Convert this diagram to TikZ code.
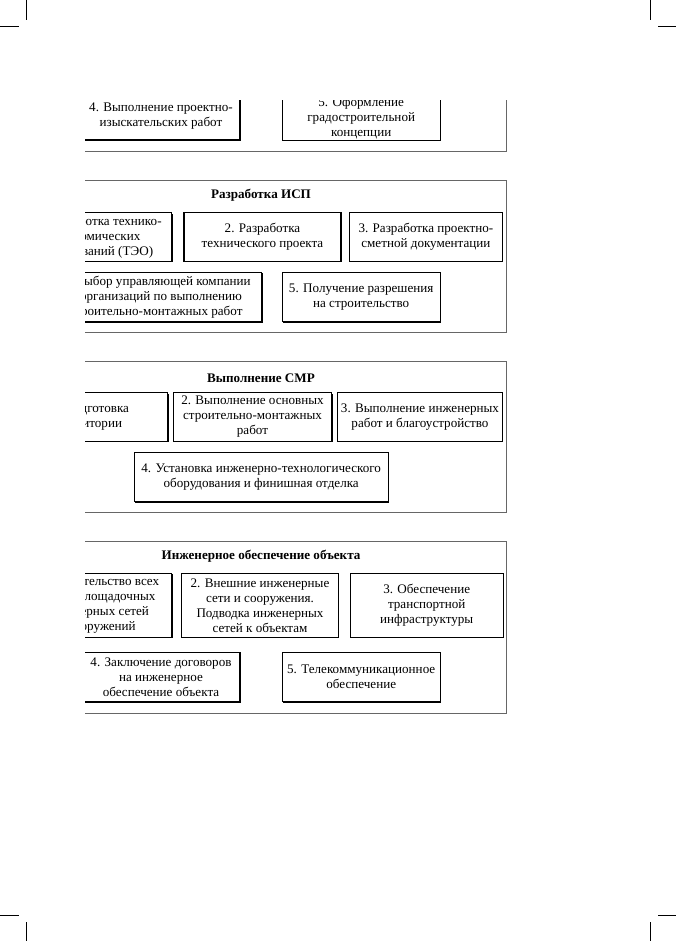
\documentclass[tikz,border=0pt]{standalone}
\usepackage{fontspec}
\setmainfont{Liberation Serif}
\usetikzlibrary{shadows}
\newcommand\mybox[6]{\node[box, minimum width=#4pt, minimum height=#5pt] (#1) at (#2,#3) {#6};}
\begin{document}
\begin{tikzpicture}[x=1pt,y=-1pt,
  box/.style={draw=black, line width=1.1pt, fill=white, align=center, inner sep=0pt,
    font=\fontsize{13.1}{15}\selectfont,
    general shadow={fill=black, shadow xshift=0.9pt, shadow yshift=-0.9pt}},
  frame/.style={draw=black!60, line width=0.9pt},
  ttl/.style={font=\fontsize{13.1}{15}\selectfont\bfseries, inner sep=0pt},
  cropline/.style={draw=black, line width=0.9pt}]
\useasboundingbox (0,0) rectangle (676,941);
% crop marks
\draw[cropline] (26,0) -- (26,20);
\draw[cropline] (0,26) -- (19,26);
\draw[cropline] (650,0) -- (650,20);
\draw[cropline] (658,26) -- (676,26);
\draw[cropline] (0,915) -- (19,915);
\draw[cropline] (26,922) -- (26,941);
\draw[cropline] (658,915) -- (676,915);
\draw[cropline] (650,922) -- (650,941);
\begin{scope}
\clip (85,101) rectangle (676,941);
% section 1
\draw[frame] (15,30) rectangle (506.7,151);
\mybox{sa4}{161}{116.5}{158}{47}{4. Выполнение проектно-\\изыскательских работ}
\mybox{sa5}{361.2}{118}{157.7}{45}{5. Оформление\\градостроительной\\концепции}
% section 2
\draw[frame] (15,180.7) rectangle (506.7,332);
\node[ttl] (tb) at (261,195) {Разработка ИСП};
\mybox{sb1}{97.9}{236.9}{147.7}{48.3}{1. Разработка технико-\\экономических\\обоснований (ТЭО)}
\mybox{sb2}{262.5}{236.9}{157}{48.3}{2. Разработка\\технического проекта}
\mybox{sb3}{425.9}{236.9}{152.3}{48.3}{3. Разработка проектно-\\сметной документации}
\mybox{sb4}{155.9}{296.9}{211.7}{49.7}{4. Выбор управляющей компании\\и организаций по выполнению\\строительно-монтажных работ}
\mybox{sb5}{361.2}{296.9}{157.7}{49.7}{5. Получение разрешения\\на строительство}
% section 3
\draw[frame] (15,361) rectangle (506.7,512.3);
\node[ttl] (tc) at (261,378) {Выполнение СМР};
\mybox{sc1}{89.9}{416.9}{155.7}{48.3}{1. Подготовка\\территории}
\mybox{sc2}{252.5}{416.9}{158.4}{48.3}{2. Выполнение основных\\строительно-монтажных\\работ}
\mybox{sc3}{420}{416.9}{164.6}{48.3}{3. Выполнение инженерных\\работ и благоустройство}
\mybox{sc4}{261.2}{477.2}{254.3}{49}{4. Установка инженерно-технологического\\оборудования и финишная отделка}
% section 4
\draw[frame] (15,541.7) rectangle (506.7,713.3);
\node[ttl] (td) at (261,556.7) {Инженерное обеспечение объекта};
\mybox{sd1}{96.9}{605.3}{149.7}{64}{1. Строительство всех\\внутриплощадочных\\инженерных сетей\\и сооружений}
\mybox{sd2}{260}{605.3}{156.6}{64}{2. Внешние инженерные\\сети и сооружения.\\Подводка инженерных\\сетей к объектам}
\mybox{sd3}{426.7}{605.3}{153.3}{64}{3. Обеспечение\\транспортной\\инфраструктуры}
\mybox{sd4}{161}{677.2}{158}{49}{4. Заключение договоров\\на инженерное\\обеспечение объекта}
\mybox{sd5}{361.2}{677.2}{157.7}{49}{5. Телекоммуникационное\\обеспечение}
\end{scope}
\end{tikzpicture}
\end{document}
